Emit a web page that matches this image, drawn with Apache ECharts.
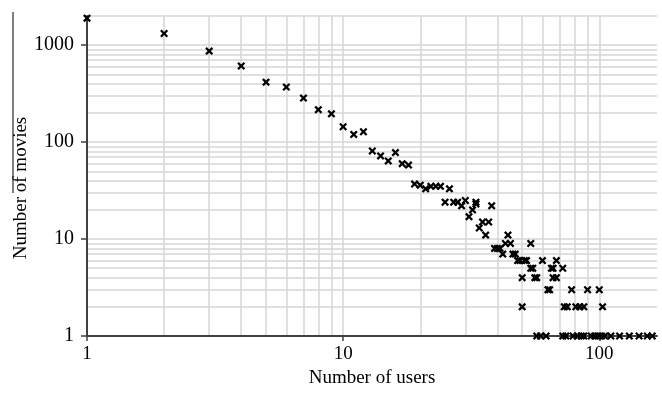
<!DOCTYPE html>
<html>
<head>
<meta charset="utf-8">
<script src="https://cdn.jsdelivr.net/npm/echarts@6/dist/echarts.min.js"></script>
<style>html,body{margin:0;padding:0;background:#fff;}#c{width:662px;height:393px;}</style>
</head>
<body>
<div id="c"></div>
<script>
// Number of users (x) and number of movies (y) for each point
const users = [
  1, 2, 3, 4, 5, 6, 7, 8, 9, 10,
  11, 12, 13, 14, 15, 16, 17, 18, 19, 20,
  21, 22, 23, 24, 25, 26, 27, 28, 29, 30,
  31, 32, 33, 33, 34, 35, 36, 37, 38, 39,
  40, 41, 42, 43, 44, 45, 46, 47, 48, 49,
  50, 51, 52, 54, 54, 55, 56, 57, 60, 65,
  66, 66, 68, 68, 72, 63, 64, 78, 90, 100,
  50, 73, 75, 81, 84, 87, 103,
  57, 59, 62, 72, 74, 79, 82, 85, 87, 93,
  96, 99, 102, 105, 111, 120, 131, 143, 154, 161
];
const movies = [
  1900, 1320, 870, 610, 415, 370, 285, 216, 196, 144,
  120, 128, 81, 72, 64, 78, 60, 58, 37, 36,
  33, 35, 35, 35, 24, 33, 24, 24, 22, 25,
  17, 20, 23, 24, 13, 15, 11, 15, 22, 8,
  8, 8, 7, 9, 11, 9, 7, 7, 6, 6,
  4, 6, 6, 9, 5, 5, 4, 4, 6, 5,
  5, 4, 6, 4, 5, 3, 3, 3, 3, 3,
  2, 2, 2, 2, 2, 2, 2,
  1, 1, 1, 1, 1, 1, 1, 1, 1, 1,
  1, 1, 1, 1, 1, 1, 1, 1, 1, 1
];
const xTickLabels = ['1', '10', '100'];
const yTickLabels = ['1', '10', '100', '1000'];
const xMin = 1, xMax = 168, yMin = 1, yMax = 2000;
const xTitle = 'Number of users';
const yTitle = 'Number of movies';

const points = users.map((u, i) => [u, movies[i]]);

function gridValues(maxVal) {
  const out = [];
  for (let d = 1; d <= maxVal; d *= 10) {
    for (let k = 1; k <= 9; k++) {
      const v = k * d;
      if (v > 1 && v <= maxVal) out.push(v);
    }
  }
  return out;
}
const xGrid = gridValues(xMax);
const yGrid = gridValues(yMax);

const serif = '"Liberation Serif", "Times New Roman", serif';
const chart = echarts.init(document.getElementById('c'));
const crossPath = 'path://M0,2L2,0L5,3L8,0L10,2L7,5L10,8L8,10L5,7L2,10L0,8L3,5Z';

chart.setOption({
  animation: false,
  grid: { left: 87, right: 5, top: 16, bottom: 56, containLabel: false },
  xAxis: {
    type: 'log', logBase: 10, min: xMin, max: xMax,
    name: xTitle, nameLocation: 'middle', nameGap: 33,
    nameTextStyle: { fontFamily: serif, fontSize: 19, color: '#000' },
    axisLine: { show: true, onZero: false, lineStyle: { color: '#404040', width: 2 } },
    axisTick: { show: true, length: 5, lineStyle: { color: '#404040', width: 1.5 } },
    axisLabel: {
      fontFamily: serif, fontSize: 19, color: '#000', margin: 9, showMaxLabel: false,
      formatter: v => { const s = String(Math.round(v)); return xTickLabels.includes(s) ? s : ''; }
    },
    splitLine: { show: false }
  },
  yAxis: {
    type: 'log', logBase: 10, min: yMin, max: yMax,
    axisLine: { show: true, onZero: false, lineStyle: { color: '#404040', width: 2 } },
    axisTick: { show: true, length: 6, lineStyle: { color: '#404040', width: 1.5 } },
    axisLabel: {
      fontFamily: serif, fontSize: 20, color: '#000', margin: 13, showMaxLabel: false,
      formatter: v => { const s = String(Math.round(v)); return yTickLabels.includes(s) ? s : ''; }
    },
    splitLine: { show: false }
  },
  graphic: [
    {
      type: 'line', shape: { x1: 13, y1: 12, x2: 13, y2: 193 },
      style: { stroke: '#000', lineWidth: 1 }
    },
    {
      type: 'text', x: 21, y: 188, rotation: Math.PI / 2,
      style: { text: yTitle, fontFamily: serif, fontSize: 19, fill: '#000', align: 'center', verticalAlign: 'middle' }
    }
  ],
  series: [
    {
      type: 'scatter', data: [], z: 0, silent: true,
      markLine: {
        silent: true, symbol: 'none', animation: false, z: 0,
        label: { show: false },
        lineStyle: { color: '#d6d6d6', type: 'solid', width: 1.5 },
        data: xGrid.map(v => ({ xAxis: v })).concat(yGrid.map(v => ({ yAxis: v })))
      }
    },
    {
      type: 'scatter', data: points, z: 10,
      symbol: crossPath, symbolSize: 8,
      itemStyle: { color: '#000', opacity: 1 }
    }
  ]
});
</script>
</body>
</html>
